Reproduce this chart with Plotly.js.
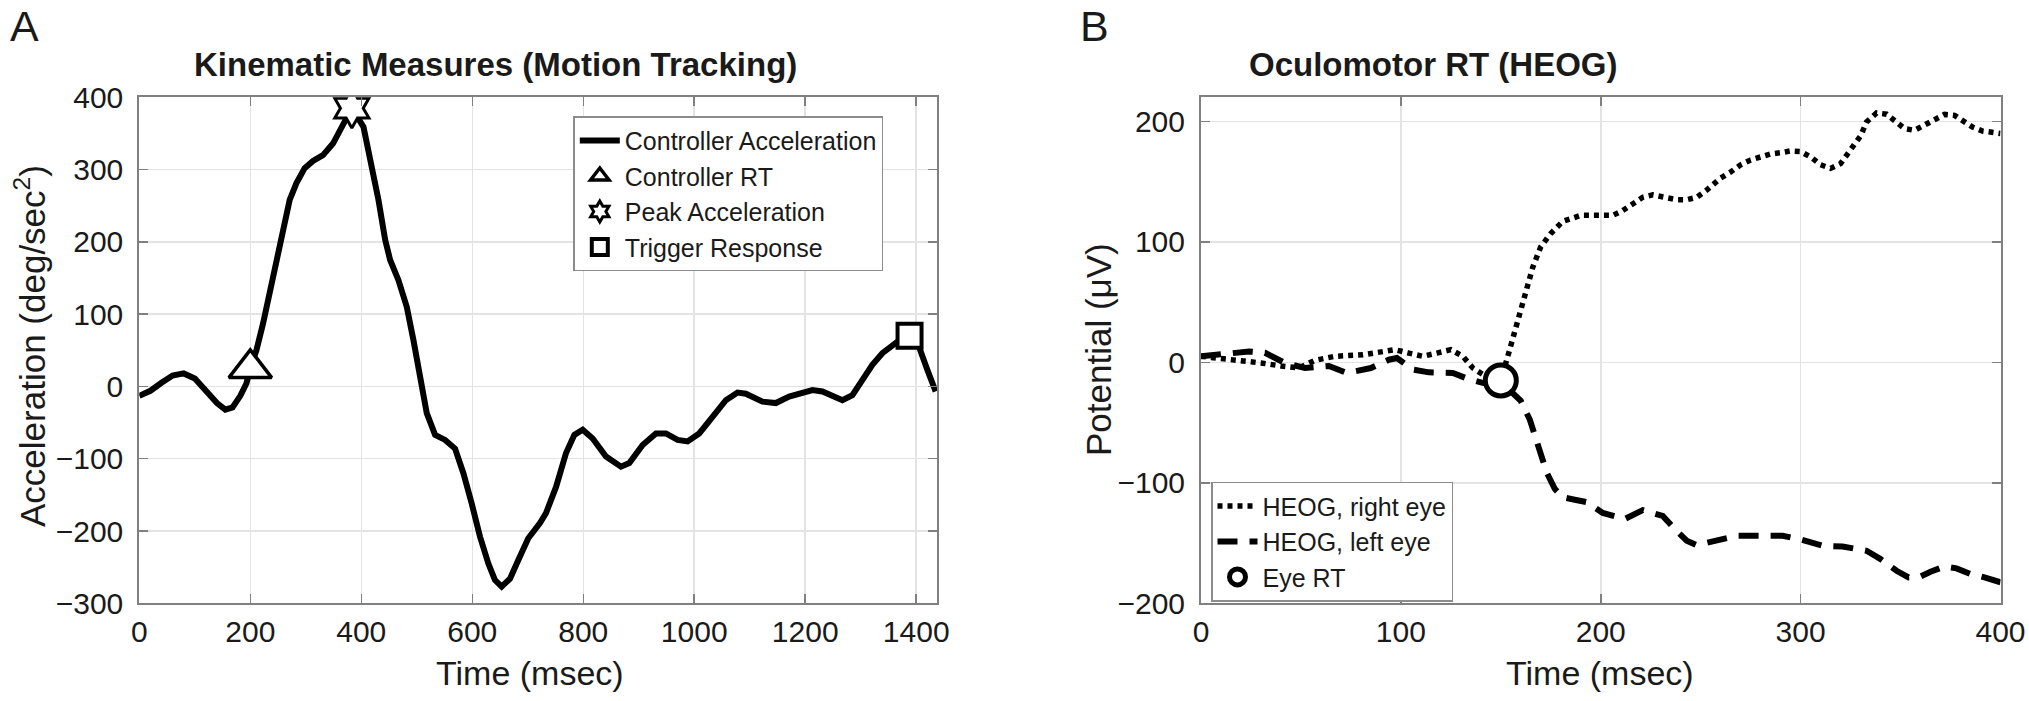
<!DOCTYPE html>
<html>
<head>
<meta charset="utf-8">
<script src="https://cdn.plot.ly/plotly-3.0.1.min.js"></script>
<style>
html,body{margin:0;padding:0;background:#ffffff;}
#chart{width:2029px;height:701px;}
</style>
</head>
<body>
<div id="chart"></div>
<script>
// ---------- Panel A data: controller acceleration ----------
const accTime = [0,20,40,60,80,100,120,140,155,168,182,193,200,211,223,235,247,259,271,283,298,313,331,349,367,383,404,416,431,443,452,467,482,494,506,518,533,551,569,584,599,614,629,641,653,668,683,701,722,733,751,769,784,799,817,841,868,883,907,931,949,970,988,1009,1033,1057,1078,1093,1123,1147,1171,1213,1231,1267,1285,1303,1321,1339,1357,1370,1388,1405,1420,1435];
const accValue = [-13,-6,5,15,18,11,-6,-23,-32,-29,-13,4,25,50,87,129,175,221,258,281,302,312,320,336,364,385,359,318,258,203,175,147,110,64,9,-37,-67,-74,-86,-120,-162,-208,-245,-268,-277,-266,-240,-210,-189,-175,-139,-92,-67,-60,-72,-97,-111,-106,-81,-65,-65,-74,-76,-65,-42,-19,-8.5,-10,-21,-23,-14,-5,-7,-19,-12,9,30,46,57,64,70,55,23,-7];
const rtTime = [200],   rtValue = [25];
const peakTime = [383], peakValue = [385];
const trigTime = [1388], trigValue = [70];

// ---------- Panel B data: HEOG ----------
const rightEyeTime = [0,9,19,30,40,49,57,67,81,97,104,111,118,125,131,136,141,150,154,158,162,166,170,175,181,190,198,206,211,216,221,226,232,238,243,248,253,260,265,270,275,280,285,290,295,300,305,310,315,320,323,327,330,333,338,343,348,352,357,362,367,372,377,382,386,391,397,400];
const rightEyeValue = [5,3.6,1,-0.5,-3,-4.7,1.7,5,6.3,10.5,7.7,5,7.7,10.5,5,-4.7,-10,-15,8,33,57,79,96,107,117,122,122,122,126,132,137,139,137,135,135,137,143,153,158,164,168,170.5,173,174,175.5,175,170.5,164,161,165,172,180,188,199.5,207,206,199.5,194,192.6,196.7,201.4,205.8,205,200.3,195.3,192,190.4,190];
const leftEyeTime = [0,7,15,24,32,42,52,64,73,85,94,98,106,114,126,134,141,150,155,160,164.5,169.5,173,177,181,187,193,201,205,212,221,231,238,243,248,256,268,278,291,300,311,321,333,340,348,354,360,365,372,378,385,392,400];
const leftEyeValue = [5,6.3,8,9,8,-0.5,-4.7,-3,-8.8,-4.7,2.2,3.6,-6,-8.3,-8.8,-14,-17,-20,-24,-32,-47.5,-72,-91.6,-105,-112,-114,-116,-125,-127,-130,-122.7,-127.5,-140,-148,-151.7,-149,-144,-144,-144,-147,-152.3,-152.8,-156.4,-163.3,-173,-178.5,-177.7,-173.8,-169.4,-171,-175.7,-178.5,-182.6];
const eyeRtTime = [150], eyeRtValue = [-15];

// ---------- axis ticks ----------
const accXTicks = [0,200,400,600,800,1000,1200,1400];
const accYTicks = [-300,-200,-100,0,100,200,300,400];
const heogXTicks = [0,100,200,300,400];
const heogYTicks = [-200,-100,0,100,200];

const W = 2029, H = 701;
const px = v => v / W;
const py = v => 1 - v / H;
const FONT = 'Liberation Sans, Arial, Helvetica, sans-serif';
const TXT = '#1a1a1a';

const traces = [
  {x: accTime, y: accValue, mode: 'lines', name: 'Controller Acceleration',
   line: {color: '#000000', width: 6}, xaxis: 'x', yaxis: 'y', legend: 'legend'},
  {x: rtTime, y: rtValue, mode: 'markers', name: 'Controller RT',
   marker: {symbol: 'triangle-up', size: 37, color: '#ffffff', line: {color: '#000000', width: 3.5}},
   xaxis: 'x', yaxis: 'y', legend: 'legend'},
  {x: peakTime, y: peakValue, mode: 'markers', name: 'Peak Acceleration',
   marker: {symbol: 'hexagram', size: 30, color: '#ffffff', line: {color: '#000000', width: 3}},
   xaxis: 'x', yaxis: 'y', legend: 'legend'},
  {x: trigTime, y: trigValue, mode: 'markers', name: 'Trigger Response',
   marker: {symbol: 'square', size: 24, color: '#ffffff', line: {color: '#000000', width: 4}},
   xaxis: 'x', yaxis: 'y', legend: 'legend'},

  {x: rightEyeTime, y: rightEyeValue, mode: 'lines', name: 'HEOG, right eye',
   line: {color: '#000000', width: 5.5, dash: '5px,5px'}, xaxis: 'x2', yaxis: 'y2', legend: 'legend2'},
  {x: leftEyeTime, y: leftEyeValue, mode: 'lines', name: 'HEOG, left eye',
   line: {color: '#000000', width: 6, dash: '20px,12px'}, xaxis: 'x2', yaxis: 'y2', legend: 'legend2'},
  {x: eyeRtTime, y: eyeRtValue, mode: 'markers', name: 'Eye RT',
   marker: {symbol: 'circle', size: 31, color: '#ffffff', line: {color: '#000000', width: 5}},
   xaxis: 'x2', yaxis: 'y2', legend: 'legend2'}
];

const axisStyle = {
  showline: true, linecolor: '#808080', linewidth: 2, mirror: 'ticks',
  ticks: 'inside', ticklen: 9, tickwidth: 1.5, tickcolor: '#808080',
  showgrid: true, gridcolor: '#e3e3e3', gridwidth: 1.5, zeroline: false,
  tickfont: {family: FONT, size: 30, color: TXT}, tickmode: 'array'
};

const layout = {
  width: W, height: H,
  margin: {l: 0, r: 0, t: 0, b: 0},
  paper_bgcolor: '#ffffff', plot_bgcolor: '#ffffff',
  font: {family: FONT, color: TXT},
  xaxis: Object.assign({}, axisStyle, {domain: [px(139.3), px(937.3)], range: [0, 1438],
         tickvals: accXTicks, anchor: 'y', ticklabelstandoff: 1}),
  yaxis: Object.assign({}, axisStyle, {domain: [py(603.3), py(97.3)], range: [-300, 400],
         tickvals: accYTicks, anchor: 'x', ticklabelstandoff: 8}),
  xaxis2: Object.assign({}, axisStyle, {domain: [px(1201), px(2000.5)], range: [0, 400],
         tickvals: heogXTicks, anchor: 'y2', ticklabelstandoff: 1}),
  yaxis2: Object.assign({}, axisStyle, {domain: [py(603.3), py(97.3)], range: [-200, 220],
         tickvals: heogYTicks, anchor: 'x2', ticklabelstandoff: 8}),
  legend: {x: px(573.3), y: py(116.3), xanchor: 'left', yanchor: 'top',
           bgcolor: '#ffffff', bordercolor: '#8c8c8c', borderwidth: 1.5,
           font: {family: FONT, size: 25, color: TXT}, itemwidth: 40, tracegroupgap: 0},
  legend2: {x: px(1211), y: py(481.7), xanchor: 'left', yanchor: 'top',
           bgcolor: '#ffffff', bordercolor: '#8c8c8c', borderwidth: 1.5,
           font: {family: FONT, size: 25, color: TXT}, itemwidth: 40, tracegroupgap: 0},
  showlegend: true,
  annotations: [
    {text: 'A', x: px(8), y: 1, xref: 'paper', yref: 'paper', xanchor: 'left', yanchor: 'top',
     showarrow: false, font: {family: FONT, size: 43, color: TXT}},
    {text: 'B', x: px(1078), y: 1, xref: 'paper', yref: 'paper', xanchor: 'left', yanchor: 'top',
     showarrow: false, font: {family: FONT, size: 43, color: TXT}},
    {text: '<b>Kinematic Measures (Motion Tracking)</b>', x: px(495), y: py(65), xref: 'paper', yref: 'paper',
     xanchor: 'center', yanchor: 'middle', showarrow: false, font: {family: FONT, size: 33, color: TXT}},
    {text: '<b>Oculomotor RT (HEOG)</b>', x: px(1433), y: py(65), xref: 'paper', yref: 'paper',
     xanchor: 'center', yanchor: 'middle', showarrow: false, font: {family: FONT, size: 33, color: TXT}},
    {text: 'Time (msec)', x: px(530), y: py(673), xref: 'paper', yref: 'paper',
     xanchor: 'center', yanchor: 'middle', showarrow: false, font: {family: FONT, size: 34, color: TXT}},
    {text: 'Time (msec)', x: px(1600), y: py(673), xref: 'paper', yref: 'paper',
     xanchor: 'center', yanchor: 'middle', showarrow: false, font: {family: FONT, size: 34, color: TXT}},
    {text: 'Acceleration (deg/sec<sup>2</sup>)', x: px(30), y: py(346), xref: 'paper', yref: 'paper',
     xanchor: 'center', yanchor: 'middle', textangle: -90, showarrow: false, font: {family: FONT, size: 35, color: TXT}},
    {text: 'Potential (μV)', x: px(1098), y: py(350), xref: 'paper', yref: 'paper',
     xanchor: 'center', yanchor: 'middle', textangle: -90, showarrow: false, font: {family: FONT, size: 35, color: TXT}}
  ]
};

Plotly.newPlot('chart', traces, layout, {displayModeBar: false, staticPlot: true});
</script>
</body>
</html>
